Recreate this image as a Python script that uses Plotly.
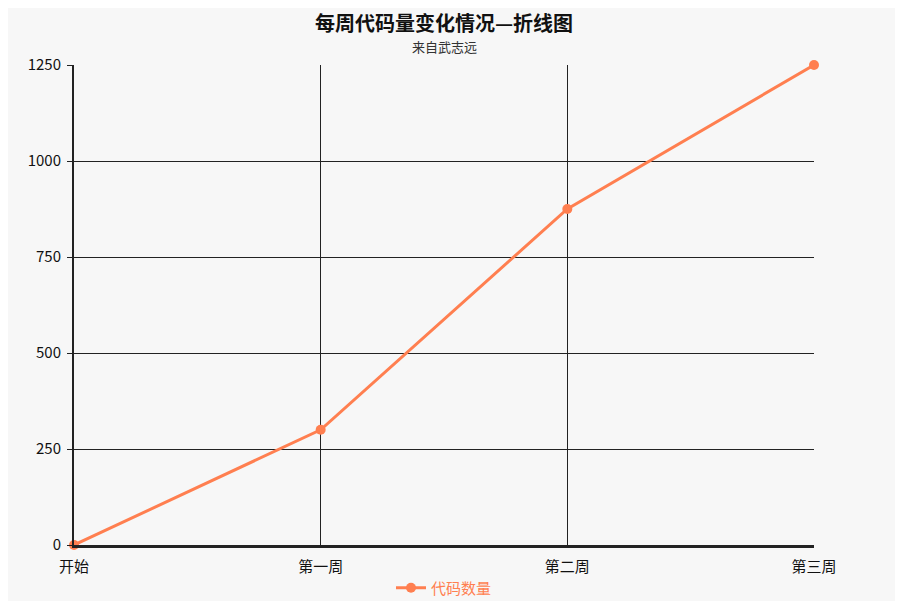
import plotly.graph_objects as go

# data
weeks = ['开始', '第一周', '第二周', '第三周']
code_lines = [0, 300, 875, 1250]
y_ticks = [0, 250, 500, 750, 1000, 1250]

LINE_COLOR = '#ff7f50'
FONT = 'Noto Sans CJK SC'

# the page puts the figure 8px in from the top-left corner
W, H = 895, 593
PLOT_H = 593 - 57 - 56

fig = go.Figure()
fig.add_trace(go.Scatter(
    x=weeks, y=code_lines, name='代码数量', mode='lines+markers',
    line=dict(color=LINE_COLOR, width=3),
    marker=dict(color=LINE_COLOR, size=10),
    cliponaxis=False,
))

fig.update_layout(
    width=W, height=H,
    paper_bgcolor='#f7f7f7', plot_bgcolor='#f7f7f7',
    font=dict(family=FONT, size=15, color='#111'),
    margin=dict(l=66, r=89, t=57, b=56, autoexpand=False),
    title=dict(
        text='<b>每周代码量变化情况—折线图</b>',
        x=0.5, xref='paper', xanchor='center',
        y=1 - 16 / H, yref='container', yanchor='middle',
        font=dict(family=FONT, size=20, color='#111'),
    ),
    showlegend=True,
    legend=dict(
        orientation='h', x=0.5, xanchor='center', y=-43 / PLOT_H, yanchor='middle',
        font=dict(color=LINE_COLOR, size=15, family=FONT),
        bgcolor='rgba(0,0,0,0)',
    ),
)

fig.add_annotation(
    text='来自武志远', x=0.5, xref='paper', xanchor='center',
    y=1 + 19 / PLOT_H, yref='paper', yanchor='middle', showarrow=False,
    font=dict(family=FONT, size=13, color='#333'),
)

fig.update_xaxes(
    type='category', range=[0, len(weeks) - 1],
    showgrid=True, gridcolor='#222', gridwidth=1,
    showline=True, linecolor='#222', linewidth=3,
    ticks='', ticklabelstandoff=6,
    tickfont=dict(size=15, family=FONT, color='#111'),
    zeroline=False, fixedrange=True,
)
fig.update_yaxes(
    range=[0, 1250], tickvals=y_ticks,
    showgrid=True, gridcolor='#222', gridwidth=1,
    showline=True, linecolor='#222', linewidth=2,
    ticks='outside', ticklen=5, tickcolor='#222', ticklabelstandoff=3,
    tickfont=dict(size=15, family=FONT, color='#111'),
    zeroline=False, fixedrange=True,
)

fig.write_html("out.html")
